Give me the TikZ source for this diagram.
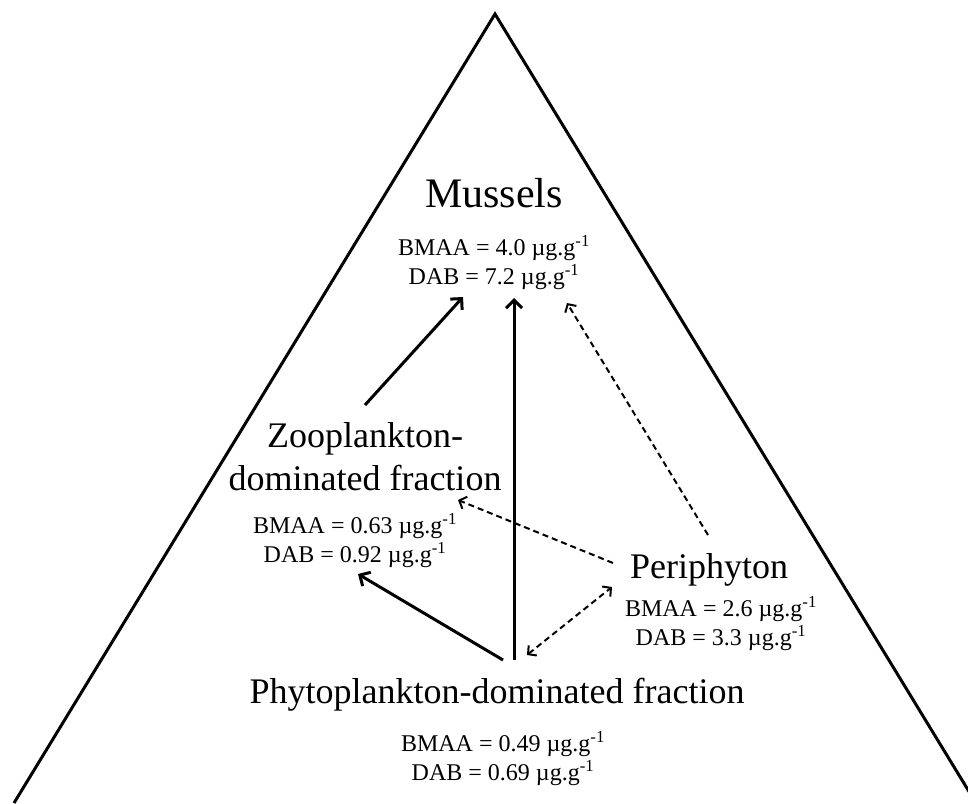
\documentclass[tikz,border=0pt]{standalone}
\usepackage{fontspec}
\setmainfont{Liberation Serif}
\usepackage{tikz}
\usetikzlibrary{arrows.meta,calc}
\newcommand{\ugg}{\textmu g.g\textsuperscript{-1}}
\tikzset{
  webtitle/.style={inner sep=0pt,font=\fontsize{36}{43}\selectfont},
  webvals/.style={inner sep=0pt,align=center,font=\fontsize{24}{29}\selectfont},
  webflow/.style={-{Straight Barb[length=8pt,width=16pt]},line width=3pt},
  webmaybe/.style={-{Straight Barb[length=6pt,width=13pt]},line width=2pt,dash pattern=on 6pt off 4pt},
  webboth/.style={{Straight Barb[length=6pt,width=13pt]}-{Straight Barb[length=6pt,width=13pt]},line width=2pt,dash pattern=on 6pt off 4pt},
}

\begin{document}
\begin{tikzpicture}[x=1pt,y=-1pt]
  \useasboundingbox (0,0) rectangle (968,803);
  \clip (0,0) rectangle (968,803);
  % pyramid
  \coordinate (apex) at (495,14);
  \draw[line width=3pt] (14,803) -- (apex) -- (976,803);
  % compartments
  \node[webtitle,anchor=base,font=\fontsize{42}{50}\selectfont] (mus) at (494,207) {Mussels};
  \node[webvals,anchor=north] (musv) at (494,235) {BMAA = 4.0 \ugg\\DAB = 7.2 \ugg};
  \node[webtitle,anchor=north,align=center] (zoo) at (365,422) {Zooplankton-\\dominated fraction};
  \node[webvals,anchor=north] (zoov) at (355,513) {BMAA = 0.63 \ugg\\DAB = 0.92 \ugg};
  \node[webtitle,anchor=base] (per) at (709,578) {Periphyton};
  \node[webvals,anchor=north] (perv) at (721,596) {BMAA = 2.6 \ugg\\DAB = 3.3 \ugg};
  \node[webtitle,anchor=base] (phy) at (497,703) {Phytoplankton-dominated fraction};
  \node[webvals,anchor=north] (phyv) at (503,731) {BMAA = 0.49 \ugg\\DAB = 0.69 \ugg};
  % arrow ends
  \coordinate (zoo-n) at (365,405);
  \coordinate (zoo-e) at (458,500);
  \coordinate (zoo-s) at (358,574);
  \coordinate (mus-sw) at (463,297);
  \coordinate (mus-s) at (514,298);
  \coordinate (mus-se) at (567,303);
  \coordinate (per-n) at (708,535);
  \coordinate (per-w) at (613,563);
  \coordinate (per-sw) at (612,587);
  \coordinate (phy-n) at (514,660);
  \coordinate (phy-nw) at (503,660);
  \coordinate (phy-ne) at (527,655);
  % trophic links
  \draw[webflow] (zoo-n) -- (mus-sw);
  \draw[webflow] (phy-n) -- (mus-s);
  \draw[webflow] (phy-nw) -- (zoo-s);
  \draw[webmaybe] (per-n) -- (mus-se);
  \draw[webmaybe] (per-w) -- (zoo-e);
  \draw[webboth] (phy-ne) -- (per-sw);
\end{tikzpicture}
\end{document}
